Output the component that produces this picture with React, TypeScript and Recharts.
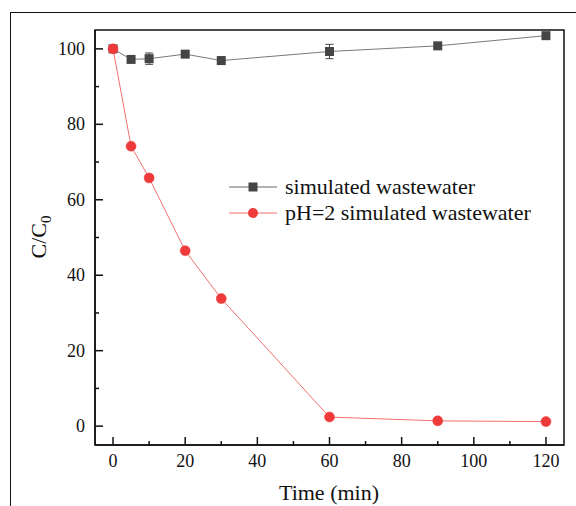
import React from 'react';
import {
  LineChart,
  Line,
  XAxis,
  YAxis,
  Legend,
  ErrorBar,
  ReferenceArea,
} from 'recharts';

const times = [0, 5, 10, 20, 30, 60, 90, 120];
const plainValues = [100, 97.2, 97.4, 98.6, 96.9, 99.3, 100.8, 103.5];
const plainErrors = [0, 0, 1.5, 0, 0, 1.9, 0, 0];
const acidValues = [100, 74.2, 65.8, 46.5, 33.8, 2.4, 1.4, 1.2];

const xTicks = [0, 10, 20, 30, 40, 50, 60, 70, 80, 90, 100, 110, 120];
const yTicks = [0, 10, 20, 30, 40, 50, 60, 70, 80, 90, 100];

const seriesNames = ['simulated wastewater', 'pH=2 simulated wastewater'];
const seriesOrder = ['plain', 'acid'];

const data = times.map((t, i) => ({
  t,
  plain: plainValues[i],
  plainErr: plainErrors[i],
  acid: acidValues[i],
}));

const FONT = "'Liberation Serif', 'Times New Roman', serif";
const GREY = '#454545';
const RED = '#ee3a3a';
const textStyle = { fontFamily: FONT };

const XTick = (props: any) => {
  const { x, y, payload } = props;
  const major = payload.value % 20 === 0;
  return (
    <g>
      <line x1={x} x2={x} y1={y} y2={y - (major ? 8 : 4)} stroke="#111" strokeWidth={1.5} />
      {major && (
        <text x={x} y={y + 22} textAnchor="middle" fontSize={18} style={textStyle} fill="#111">
          {payload.value}
        </text>
      )}
    </g>
  );
};

const YTick = (props: any) => {
  const { x, y, payload } = props;
  const major = payload.value % 20 === 0;
  return (
    <g>
      <line x1={x} x2={x + (major ? 8 : 4)} y1={y} y2={y} stroke="#111" strokeWidth={1.5} />
      {major && (
        <text x={x - 10} y={y + 6} textAnchor="end" fontSize={18} style={textStyle} fill="#111">
          {payload.value}
        </text>
      )}
    </g>
  );
};

const LegendBox = (props: any) => {
  const items = [...(props.payload || [])].sort(
    (a: any, b: any) => seriesOrder.indexOf(a.dataKey) - seriesOrder.indexOf(b.dataKey)
  );
  return (
    <div style={{ fontFamily: FONT, fontSize: 22, color: '#111' }}>
      {items.map((it: any, i: number) => {
        const isAcid = it.dataKey === 'acid';
        return (
          <div key={i} style={{ display: 'flex', alignItems: 'center', height: 26 }}>
            <svg width={50} height={14} style={{ marginRight: 6 }}>
              <line x1={0} x2={48} y1={7} y2={7} stroke={isAcid ? '#f07070' : '#666'} strokeWidth={1} />
              {isAcid ? (
                <circle cx={24} cy={7} r={5} fill={RED} />
              ) : (
                <rect x={19.5} y={2.5} width={9} height={9} fill={GREY} />
              )}
            </svg>
            <span style={{ lineHeight: '26px' }}>{it.value}</span>
          </div>
        );
      })}
    </div>
  );
};

const SquareDot = (props: any) => {
  const { cx, cy } = props;
  if (cx == null || cy == null) return null;
  return <rect x={cx - 4.5} y={cy - 4.5} width={9} height={9} fill={GREY} />;
};

export default function App() {
  return (
    <div style={{ position: 'fixed', left: 0, top: 0, width: 576, height: 506, overflow: 'hidden', background: '#fff' }}>
      <div
        style={{
          position: 'absolute',
          left: 10,
          top: 12,
          width: 700,
          height: 700,
          borderTop: '1.5px solid #111',
          borderLeft: '1.5px solid #111',
        }}
      />
      <div style={{ position: 'absolute', left: 0, top: 0 }}>
        <LineChart width={576} height={506} data={data} margin={{ top: 30, right: 12, left: 0, bottom: 0 }}>
          <XAxis
            dataKey="t"
            type="number"
            domain={[-5, 125]}
            ticks={xTicks}
            interval={0}
            height={61}
            tickSize={0}
            tickMargin={0}
            tickLine={false}
            tick={<XTick />}
            axisLine={{ stroke: '#111', strokeWidth: 1.5 }}
          />
          <YAxis
            type="number"
            domain={[-5, 105]}
            ticks={yTicks}
            interval={0}
            width={95}
            tickSize={0}
            tickMargin={0}
            tickLine={false}
            tick={<YTick />}
            axisLine={{ stroke: '#111', strokeWidth: 1.5 }}
          />
          <ReferenceArea x1={-5} x2={125} y1={-5} y2={105} fill="none" stroke="#111" strokeWidth={1.5} />
          <Line
            dataKey="plain"
            name={seriesNames[0]}
            stroke="#7a7a7a"
            strokeWidth={1}
            dot={<SquareDot />}
            activeDot={false}
            isAnimationActive={false}
          >
            <ErrorBar dataKey="plainErr" direction="y" width={4} stroke={GREY} strokeWidth={1} />
          </Line>
          <Line
            dataKey="acid"
            name={seriesNames[1]}
            stroke="#f07070"
            strokeWidth={1}
            dot={{ r: 5, fill: RED, stroke: RED, strokeWidth: 0.5 }}
            activeDot={false}
            isAnimationActive={false}
          />
          <Legend
            layout="vertical"
            align="center"
            verticalAlign="middle"
            content={<LegendBox />}
            wrapperStyle={{ position: 'absolute', left: 229, top: 174, width: 320 }}
          />
          <text x={329} y={500} textAnchor="middle" fontSize={22} style={textStyle} fill="#111">
            Time (min)
          </text>
          <text
            transform="translate(46,237) rotate(-90)"
            textAnchor="middle"
            fontSize={22}
            style={textStyle}
            fill="#111"
          >
            C/C<tspan fontSize={15} dy={5}>0</tspan>
          </text>
        </LineChart>
      </div>
    </div>
  );
}
